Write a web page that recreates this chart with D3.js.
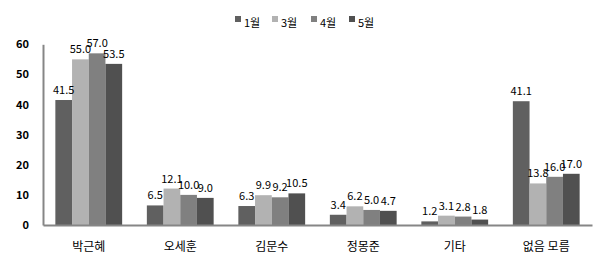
<!DOCTYPE html>
<html><head><meta charset="utf-8">
<script src="https://cdn.jsdelivr.net/npm/d3@7"></script>
<style>body{margin:0;background:#fff}svg{display:block}</style>
</head><body>
<script>
const categories = ["박근혜","오세훈","김문수","정몽준","기타","없음 모름"];
const seriesNames = ["1월","3월","4월","5월"];
const jan = [41.5, 6.5, 6.3, 3.4, 1.2, 41.1];
const mar = [55.0, 12.1, 9.9, 6.2, 3.1, 13.8];
const apr = [57.0, 10.0, 9.2, 5.0, 2.8, 16.0];
const may = [53.5, 9.0, 10.5, 4.7, 1.8, 17.0];
const yTicks = [0,10,20,30,40,50,60];
const colors = ["#606060","#b2b2b2","#808080","#505050"];

const series = [jan, mar, apr, may];
const W = 605, H = 275;
const svg = d3.select("body").append("svg").attr("width", W).attr("height", H);
const font = "'Noto Sans CJK KR', 'DejaVu Sans', sans-serif";

const x0 = d3.scaleBand().domain(categories).range([43, 592]).paddingInner(0.27).paddingOuter(0.135);
const x1 = d3.scaleBand().domain(seriesNames).range([0, x0.bandwidth()]);
const y = d3.scaleLinear().domain([0, 60]).range([225, 44.3]);

// bars
categories.forEach((c, ci) => {
  const g = svg.append("g").attr("transform", `translate(${x0(c)},0)`);
  seriesNames.forEach((s, si) => {
    const v = series[si][ci];
    g.append("rect").attr("x", x1(s)).attr("y", y(v)).attr("width", x1.bandwidth()).attr("height", y(0) - y(v)).attr("fill", colors[si]);
  });
});

// labels
categories.forEach((c, ci) => {
  seriesNames.forEach((s, si) => {
    const v = series[si][ci];
    svg.append("text").attr("x", x0(c) + x1(s) + x1.bandwidth()/2).attr("y", y(v) - 6)
      .attr("text-anchor", "middle").attr("font-family", font).attr("font-size", 11).attr("fill", "#000")
      .text(v.toFixed(1));
  });
});

// axes
const yAxis = d3.axisLeft(y).tickValues(yTicks).tickSize(0).tickPadding(14);
const ya = svg.append("g").attr("transform", "translate(43,0)").call(yAxis);
ya.select(".domain").attr("stroke", "#868686").attr("stroke-width", 2);
ya.selectAll("text").attr("font-family", font).attr("font-size", 11).attr("font-weight", "bold").attr("fill", "#000");

const xAxis = d3.axisBottom(x0).tickSize(0).tickPadding(17);
const xa = svg.append("g").attr("transform", "translate(0,225)").call(xAxis);
xa.select(".domain").attr("stroke", "#868686").attr("stroke-width", 2);
xa.selectAll("text").attr("font-family", font).attr("font-size", 12).attr("fill", "#000");

// legend
const legendX = [235, 272, 311, 349];
seriesNames.forEach((s, i) => {
  svg.append("rect").attr("x", legendX[i]).attr("y", 16).attr("width", 6).attr("height", 6).attr("fill", colors[i]);
  svg.append("text").attr("x", legendX[i] + 9).attr("y", 27).attr("font-family", font).attr("font-size", 11).attr("fill", "#000").text(s);
});
</script>
</body></html>
